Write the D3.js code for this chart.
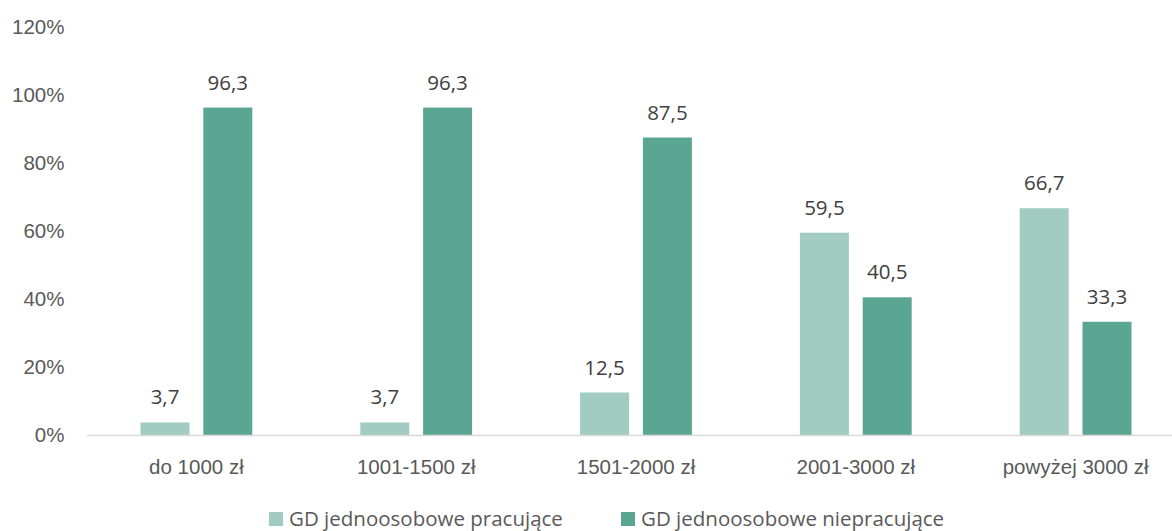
<!DOCTYPE html>
<html>
<head>
<meta charset="utf-8">
<script src="https://cdn.jsdelivr.net/npm/d3@7"></script>
<style>
  body { margin: 0; background: #fff; }
  svg { display: block; font-family: "Open Sans", "Noto Sans", sans-serif; }
</style>
</head>
<body>
<div id="chart"></div>
<script>
const categories = ['do 1000 zł', '1001-1500 zł', '1501-2000 zł', '2001-3000 zł', 'powyżej 3000 zł'];
const seriesNames = ['GD jednoosobowe pracujące', 'GD jednoosobowe niepracujące'];
const pracujace = [3.7, 3.7, 12.5, 59.5, 66.7];
const niepracujace = [96.3, 96.3, 87.5, 40.5, 33.3];
const yTicks = [0, 20, 40, 60, 80, 100, 120];
const colors = ['#a2cbc1', '#5ba593'];

const width = 1172, height = 531;
const margin = { top: 27, left: 86.5 };
// plot area runs a little past the right edge, as in the original export
const plotW = 1099;
const innerH = 435 - margin.top;
const fontSize = '20.5px';

const svg = d3.select('#chart').append('svg')
  .attr('width', width)
  .attr('height', height);

const g = svg.append('g')
  .attr('transform', `translate(${margin.left},${margin.top})`);

const x = d3.scaleBand().domain(categories).range([0, plotW]).padding(0);
const x1 = d3.scaleBand().domain(seriesNames).range([0, x.bandwidth()]).paddingInner(0.22).paddingOuter(0.86);
const y = d3.scaleLinear().domain([0, 120]).range([innerH, 0]);

// y axis labels, no gridlines
g.append('g')
  .call(d3.axisLeft(y).tickValues(yTicks).tickFormat(d => d + '%').tickSize(0).tickPadding(22))
  .call(a => a.select('.domain').remove())
  .call(a => a.selectAll('.tick text').attr('fill', '#595959').style('font-size', fontSize));

const rows = categories.map((c, i) => ({ cat: c, values: [pracujace[i], niepracujace[i]] }));

const grp = g.selectAll('.grp').data(rows).enter().append('g')
  .attr('transform', d => `translate(${x(d.cat)},0)`);

grp.selectAll('rect').data(d => d.values.map((v, j) => ({ key: seriesNames[j], v, j })))
  .enter().append('rect')
  .attr('x', d => x1(d.key))
  .attr('y', d => y(d.v))
  .attr('width', x1.bandwidth())
  .attr('height', d => innerH - y(d.v))
  .attr('fill', d => colors[d.j]);

grp.selectAll('text.lbl').data(d => d.values.map((v, j) => ({ key: seriesNames[j], v, j })))
  .enter().append('text')
  .attr('class', 'lbl')
  .attr('x', d => x1(d.key) + x1.bandwidth() / 2)
  .attr('y', d => y(d.v) - 18)
  .attr('text-anchor', 'middle')
  .attr('fill', '#404040')
  .style('font-size', fontSize)
  .text(d => d.v.toFixed(1).replace('.', ','));

// x axis
g.append('g')
  .attr('transform', `translate(0,${innerH})`)
  .call(d3.axisBottom(x).tickSize(0).tickPadding(24))
  .call(a => a.select('.domain').attr('stroke', '#d9d9d9').attr('stroke-width', 1.5))
  .call(a => a.selectAll('.tick text').attr('fill', '#595959').style('font-size', fontSize));

// legend
const legendX = [269, 621];
const legend = svg.append('g').attr('transform', `translate(0,526)`);
seriesNames.forEach((name, i) => {
  legend.append('rect')
    .attr('x', legendX[i]).attr('y', -14)
    .attr('width', 14).attr('height', 14)
    .attr('fill', colors[i]);
  legend.append('text')
    .attr('x', legendX[i] + 20).attr('y', 0)
    .attr('fill', '#595959')
    .style('font-size', fontSize)
    .text(name);
});
</script>
</body>
</html>
